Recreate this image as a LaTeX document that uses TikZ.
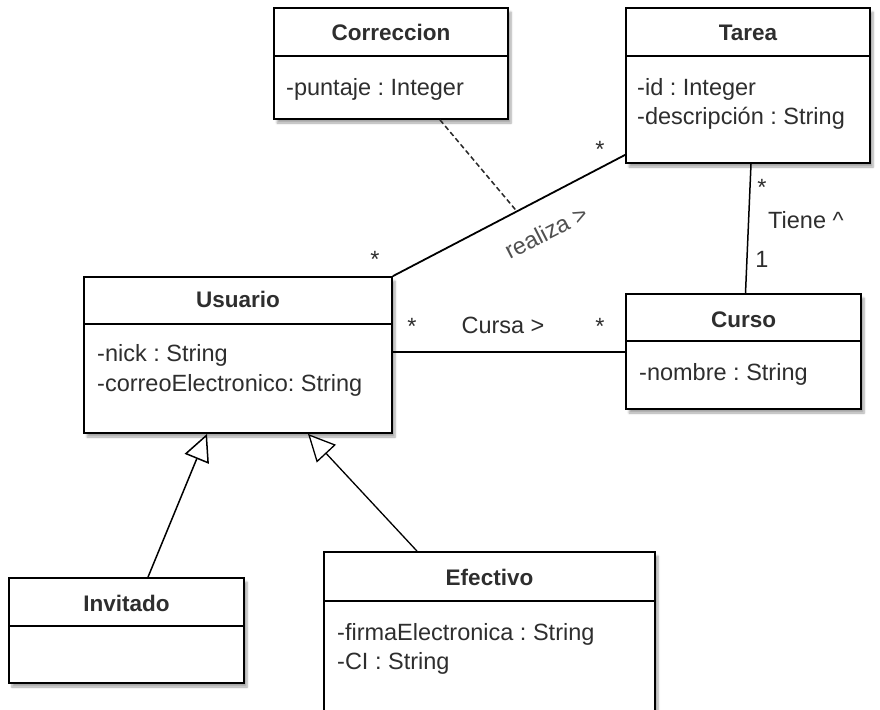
\documentclass[tikz,border=0pt]{standalone}
\usepackage{fontspec}
\setmainfont{Liberation Sans}
\usetikzlibrary{arrows.meta,calc,shadows.blur}
\definecolor{txt}{HTML}{2E2E2E}
\definecolor{lbl}{HTML}{505050}
\frenchspacing
\begin{document}
\begin{tikzpicture}[x=1pt,y=-1pt,
  box/.style={draw=black, line width=1.8pt, fill=white, inner sep=0pt,
    blur shadow={shadow xshift=3pt, shadow yshift=-4pt, shadow blur steps=6, shadow opacity=35}},
  sepline/.style={draw=black, line width=1.5pt},
  ttl/.style={font=\fontsize{22.5}{26}\selectfont\bfseries, text=txt, inner sep=0pt, anchor=base},
  attr/.style={font=\fontsize{23.5}{26}\selectfont, text=txt, inner sep=0pt, anchor=base west},
  lab/.style={font=\fontsize{23.5}{26}\selectfont, text=txt, inner sep=0pt, anchor=base},
  assoc/.style={draw=black, line width=1.8pt},
  gen/.style={draw=black, line width=1.5pt, -{Triangle[open, length=27pt, width=26pt, fill=white]}},
]
\useasboundingbox (0,0) rectangle (880,709);

% Correccion
\node[box, minimum width=234pt, minimum height=111pt] (corr) at (391,63.5) {};
\draw[sepline] ([yshift=-49pt]corr.north west) -- ([yshift=-49pt]corr.north east);
\node[ttl] (corrT) at (391,41) {Correccion};
\node[attr] (corrA) at (286,95.7) {-puntaje : Integer};

% Tarea
\node[box, minimum width=244pt, minimum height=155pt] (tarea) at (748,85.5) {};
\draw[sepline] ([yshift=-49pt]tarea.north west) -- ([yshift=-49pt]tarea.north east);
\node[ttl] (tareaT) at (748,41) {Tarea};
\node[attr] (tareaA1) at (637,95) {-id : Integer};
\node[attr] (tareaA2) at (637,124.5) {-descripción : String};

% Usuario
\node[box, minimum width=308pt, minimum height=156pt] (usu) at (238,355) {};
\draw[sepline] ([yshift=-48pt]usu.north west) -- ([yshift=-48pt]usu.north east);
\node[ttl] (usuT) at (238,307.7) {Usuario};
\node[attr] (usuA1) at (97,361.7) {-nick : String};
\node[attr] (usuA2) at (97,391.7) {-correoElectronico: String};

% Curso
\node[box, minimum width=235pt, minimum height=115pt] (curso) at (743.5,351.5) {};
\draw[sepline] ([yshift=-48pt]curso.north west) -- ([yshift=-48pt]curso.north east);
\node[ttl] (cursoT) at (743.5,327.7) {Curso};
\node[attr] (cursoA) at (639,380) {-nombre : String};

% Invitado
\node[box, minimum width=235pt, minimum height=105pt] (inv) at (126.5,630.5) {};
\draw[sepline] ([yshift=-49pt]inv.north west) -- ([yshift=-49pt]inv.north east);
\node[ttl] (invT) at (126.5,611.7) {Invitado};

% Efectivo
\node[box, minimum width=331pt, minimum height=163pt] (eff) at (489.5,633.5) {};
\draw[sepline] ([yshift=-50pt]eff.north west) -- ([yshift=-50pt]eff.north east);
\node[ttl] (effT) at (489.5,585.7) {Efectivo};
\node[attr] (effA1) at (337,640) {-firmaElectronica : String};
\node[attr] (effA2) at (337,669) {-CI : String};

% realiza association
\coordinate (rA) at (usu.north east);
\coordinate (rB) at ([yshift=9pt]tarea.south west);
\draw[assoc] (rA) -- (rB);
\coordinate (rM) at ($(rA)!0.534!(rB)$);
\draw[draw=black!85, line width=1.5pt, dash pattern=on 5pt off 3pt] ([xshift=49pt]corr.south) -- (rM);
\node[lab] (rs1) at (375,267) {*};
\node[lab] (rs2) at (600,157) {*};
\node[lab, anchor=center, rotate=27, text=lbl] (rl) at (546,232) {realiza >};

% Tiene association
\draw[assoc, line width=1.5pt] ([xshift=3pt]tarea.south) -- ([xshift=2pt]curso.north);
\node[lab] (ts1) at (762,195) {*};
\node[lab, anchor=base west] (tl) at (768,228) {Tiene \^{}};
\node[lab] (ts2) at (762,267) {1};

% Cursa association
\draw[assoc, line width=2pt] (usu.east |- curso.west) -- (curso.west);
\node[lab] (cs1) at (412,334) {*};
\node[lab] (cl) at (503,333) {Cursa >};
\node[lab] (cs2) at (600,334) {*};

% Generalizations
\draw[gen] ([xshift=21.5pt]inv.north) -- ([xshift=-31pt]usu.south);
\draw[gen, line width=1.3pt] ([xshift=-72.5pt]eff.north) -- ([xshift=70pt]usu.south);
\end{tikzpicture}
\end{document}
